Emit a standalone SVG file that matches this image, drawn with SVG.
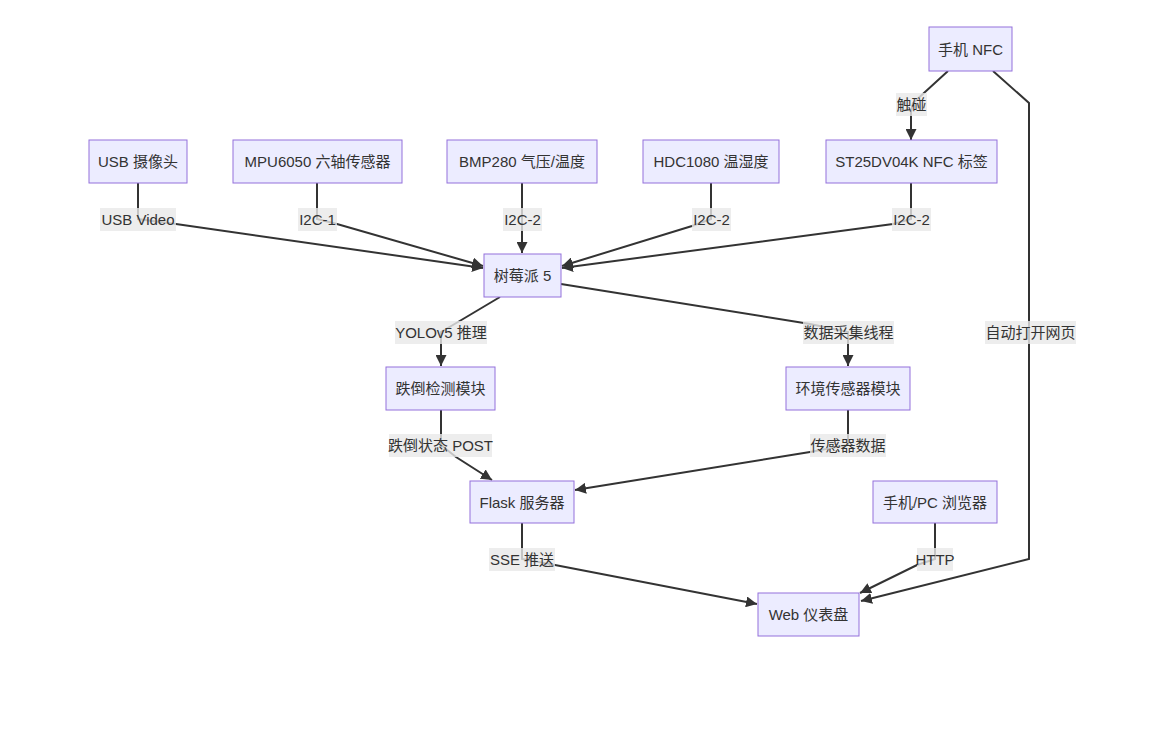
<svg xmlns="http://www.w3.org/2000/svg" width="1164" height="742" viewBox="0 0 1164 742">
<defs>
<style>
.node rect{fill:#ECECFF;stroke:#9370DB;stroke-width:1px}
text{font-family:"Liberation Sans","Noto Sans CJK SC",sans-serif;font-size:15px;fill:#333;text-anchor:middle;dominant-baseline:central}
.edge{fill:none;stroke:#333;stroke-width:2px}
.lbl rect{fill:#e8e8e8;fill-opacity:0.8}
</style>
<marker id="arr" viewBox="0 0 10 10" refX="10" refY="5" markerWidth="11" markerHeight="11" markerUnits="userSpaceOnUse" orient="auto">
<path d="M0,0 L10,5 L0,10 z" fill="#333"/>
</marker>
</defs>
<rect width="1164" height="742" fill="#fff"/>
<g id="connectors">
<path class="edge" d="M948,71 L913,103 L911,112 L911,140" marker-end="url(#arr)"/>
<path class="edge" d="M993,71 L1029,103 L1029,559 L861,601" marker-end="url(#arr)"/>
<path class="edge" d="M138,183 L138,219 L176,224 L483,268" marker-end="url(#arr)"/>
<path class="edge" d="M317,183 L317,219 L337,224 L483,266" marker-end="url(#arr)"/>
<path class="edge" d="M522,183 L522,253" marker-end="url(#arr)"/>
<path class="edge" d="M711,183 L711,219 L692,226 L562,266" marker-end="url(#arr)"/>
<path class="edge" d="M911,183 L911,219 L893,224 L562,268" marker-end="url(#arr)"/>
<path class="edge" d="M500,297 L458,322 L441,332 L441,366" marker-end="url(#arr)"/>
<path class="edge" d="M561,284 L810,324 L848,332 L848,366" marker-end="url(#arr)"/>
<path class="edge" d="M441,410 L441,445 L456,457 L492,480" marker-end="url(#arr)"/>
<path class="edge" d="M848,410 L848,445 L810,452 L575,490" marker-end="url(#arr)"/>
<path class="edge" d="M522,523 L522,559 L555,565 L757,604" marker-end="url(#arr)"/>
<path class="edge" d="M935,523 L935,559 L917,565 L860,593" marker-end="url(#arr)"/>
</g>
<g id="edge-labels">
<g class="lbl"><rect x="896" y="93" width="31" height="23"/><text x="911.5" y="104.5">触碰</text></g>
<g class="lbl"><rect x="985" y="321" width="91" height="23"/><text x="1030.5" y="332.5">自动打开网页</text></g>
<g class="lbl"><rect x="100" y="208" width="76" height="23"/><text x="138" y="219.5">USB Video</text></g>
<g class="lbl"><rect x="298" y="208" width="39" height="23"/><text x="317.5" y="219.5">I2C-1</text></g>
<g class="lbl"><rect x="503" y="208" width="39" height="23"/><text x="522.5" y="219.5">I2C-2</text></g>
<g class="lbl"><rect x="692" y="208" width="39" height="23"/><text x="711.5" y="219.5">I2C-2</text></g>
<g class="lbl"><rect x="892" y="208" width="39" height="23"/><text x="911.5" y="219.5">I2C-2</text></g>
<g class="lbl"><rect x="395" y="321" width="92" height="23"/><text x="441" y="332.5">YOLOv5 推理</text></g>
<g class="lbl"><rect x="803" y="321" width="91" height="23"/><text x="848.5" y="332.5">数据采集线程</text></g>
<g class="lbl"><rect x="389" y="434" width="103" height="23"/><text x="440.5" y="445.5">跌倒状态 POST</text></g>
<g class="lbl"><rect x="810" y="434" width="76" height="23"/><text x="848" y="445.5">传感器数据</text></g>
<g class="lbl"><rect x="489" y="548" width="66" height="23"/><text x="522" y="559.5">SSE 推送</text></g>
<g class="lbl"><rect x="917" y="548" width="36" height="23"/><text x="935" y="559.5">HTTP</text></g>
</g>
<g id="n-phone-nfc" class="node"><rect x="929" y="27" width="83" height="44"/><text x="970.5" y="49">手机 NFC</text></g>
<g id="n-usb-cam" class="node"><rect x="89" y="140" width="98" height="43"/><text x="138" y="161.5">USB 摄像头</text></g>
<g id="n-mpu" class="node"><rect x="233" y="140" width="169" height="43"/><text x="317.5" y="161.5">MPU6050 六轴传感器</text></g>
<g id="n-bmp" class="node"><rect x="447" y="140" width="150" height="43"/><text x="522" y="161.5">BMP280 气压/温度</text></g>
<g id="n-hdc" class="node"><rect x="643" y="140" width="136" height="43"/><text x="711" y="161.5">HDC1080 温湿度</text></g>
<g id="n-st25" class="node"><rect x="826" y="140" width="171" height="43"/><text x="911.5" y="161.5">ST25DV04K NFC 标签</text></g>
<g id="n-rpi" class="node"><rect x="484" y="254" width="77" height="43"/><text x="522.5" y="275.5">树莓派 5</text></g>
<g id="n-fall" class="node"><rect x="386" y="367" width="109" height="43"/><text x="440.5" y="388.5">跌倒检测模块</text></g>
<g id="n-env" class="node"><rect x="786" y="367" width="124" height="43"/><text x="848" y="388.5">环境传感器模块</text></g>
<g id="n-flask" class="node"><rect x="470" y="481" width="104" height="42"/><text x="522" y="502">Flask 服务器</text></g>
<g id="n-browser" class="node"><rect x="873" y="481" width="124" height="42"/><text x="935" y="502">手机/PC 浏览器</text></g>
<g id="n-web" class="node"><rect x="758" y="593" width="101" height="43"/><text x="808.5" y="614.5">Web 仪表盘</text></g>
</svg>
